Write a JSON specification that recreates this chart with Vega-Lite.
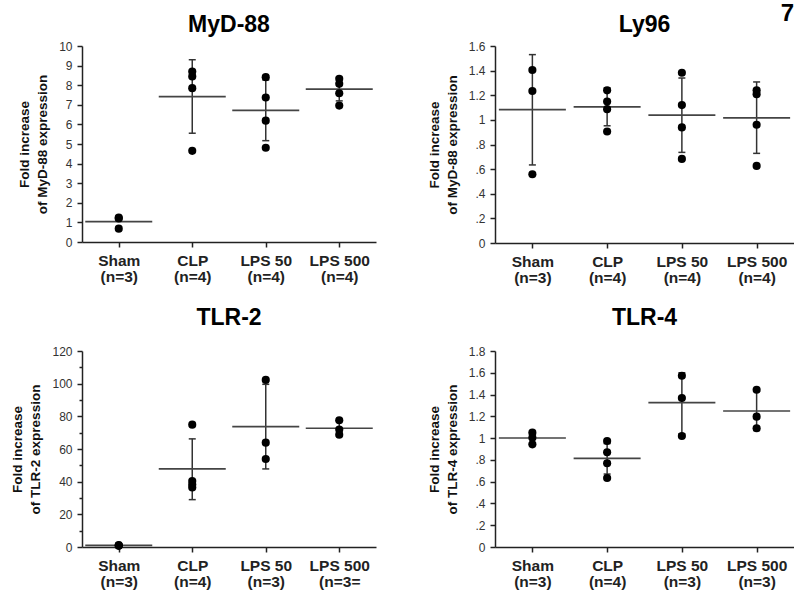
{
  "$schema": "https://vega.github.io/schema/vega-lite/v6.json",
  "background": "white",
  "padding": {"left": 10, "top": 2, "right": 0, "bottom": 0},
  "title": {"text": "7", "anchor": "end", "fontSize": 24, "fontWeight": "bold", "font": "Liberation Sans", "color": "#000", "offset": -12},
  "config": {
    "view": {"stroke": null},
    "axis": {
      "grid": false,
      "domainColor": "#222", "domainWidth": 1.5,
      "tickColor": "#222", "tickWidth": 1.5, "tickSize": 5,
      "labelFont": "Liberation Sans", "labelFontSize": 12, "labelColor": "#333", "labelOverlap": false,
      "titleFont": "Liberation Sans", "titleFontSize": 13.5, "titleFontWeight": "bold", "titleColor": "#111"
    },
    "axisX": {"labelFontSize": 15.5, "labelFontWeight": "bold", "labelColor": "#222", "labelAngle": 0, "labelPadding": 6, "labelLineHeight": 16, "title": null},
    "axisY": {"labelPadding": 5, "titlePadding": 9, "titleLineHeight": 18, "labelOverlap": false, "tickCount": 30},
    "title": {"font": "Liberation Sans", "fontSize": 23, "fontWeight": "bold", "color": "#000", "anchor": "middle", "offset": 3}
  },
  "datasets": {
    "pts": [
      {"panel": "MyD-88", "group": "Sham|(n=3)", "value": 1.25},
      {"panel": "MyD-88", "group": "Sham|(n=3)", "value": 1.2},
      {"panel": "MyD-88", "group": "Sham|(n=3)", "value": 0.68},
      {"panel": "MyD-88", "group": "CLP|(n=4)", "value": 8.7},
      {"panel": "MyD-88", "group": "CLP|(n=4)", "value": 8.45},
      {"panel": "MyD-88", "group": "CLP|(n=4)", "value": 7.85},
      {"panel": "MyD-88", "group": "CLP|(n=4)", "value": 4.65},
      {"panel": "MyD-88", "group": "LPS 50|(n=4)", "value": 8.41},
      {"panel": "MyD-88", "group": "LPS 50|(n=4)", "value": 7.37},
      {"panel": "MyD-88", "group": "LPS 50|(n=4)", "value": 6.19},
      {"panel": "MyD-88", "group": "LPS 50|(n=4)", "value": 4.81},
      {"panel": "MyD-88", "group": "LPS 500|(n=4)", "value": 8.33},
      {"panel": "MyD-88", "group": "LPS 500|(n=4)", "value": 8.07},
      {"panel": "MyD-88", "group": "LPS 500|(n=4)", "value": 7.59},
      {"panel": "MyD-88", "group": "LPS 500|(n=4)", "value": 6.96},
      {"panel": "Ly96", "group": "Sham|(n=3)", "value": 1.405},
      {"panel": "Ly96", "group": "Sham|(n=3)", "value": 1.235},
      {"panel": "Ly96", "group": "Sham|(n=3)", "value": 0.558},
      {"panel": "Ly96", "group": "CLP|(n=4)", "value": 1.24},
      {"panel": "Ly96", "group": "CLP|(n=4)", "value": 1.149},
      {"panel": "Ly96", "group": "CLP|(n=4)", "value": 1.087},
      {"panel": "Ly96", "group": "CLP|(n=4)", "value": 0.906},
      {"panel": "Ly96", "group": "LPS 50|(n=4)", "value": 1.383},
      {"panel": "Ly96", "group": "LPS 50|(n=4)", "value": 1.12},
      {"panel": "Ly96", "group": "LPS 50|(n=4)", "value": 0.939},
      {"panel": "Ly96", "group": "LPS 50|(n=4)", "value": 0.683},
      {"panel": "Ly96", "group": "LPS 500|(n=4)", "value": 1.24},
      {"panel": "Ly96", "group": "LPS 500|(n=4)", "value": 1.209},
      {"panel": "Ly96", "group": "LPS 500|(n=4)", "value": 0.96},
      {"panel": "Ly96", "group": "LPS 500|(n=4)", "value": 0.626},
      {"panel": "TLR-2", "group": "Sham|(n=3)", "value": 1.2},
      {"panel": "TLR-2", "group": "Sham|(n=3)", "value": 0.9},
      {"panel": "TLR-2", "group": "Sham|(n=3)", "value": 0.7},
      {"panel": "TLR-2", "group": "CLP|(n=4)", "value": 74.9},
      {"panel": "TLR-2", "group": "CLP|(n=4)", "value": 40.4},
      {"panel": "TLR-2", "group": "CLP|(n=4)", "value": 38.2},
      {"panel": "TLR-2", "group": "CLP|(n=4)", "value": 36.4},
      {"panel": "TLR-2", "group": "LPS 50|(n=3)", "value": 102.3},
      {"panel": "TLR-2", "group": "LPS 50|(n=3)", "value": 63.9},
      {"panel": "TLR-2", "group": "LPS 50|(n=3)", "value": 53.9},
      {"panel": "TLR-2", "group": "LPS 500|(n=3=", "value": 77.6},
      {"panel": "TLR-2", "group": "LPS 500|(n=3=", "value": 71.9},
      {"panel": "TLR-2", "group": "LPS 500|(n=3=", "value": 68.8},
      {"panel": "TLR-4", "group": "Sham|(n=3)", "value": 1.05},
      {"panel": "TLR-4", "group": "Sham|(n=3)", "value": 1.004},
      {"panel": "TLR-4", "group": "Sham|(n=3)", "value": 0.943},
      {"panel": "TLR-4", "group": "CLP|(n=4)", "value": 0.973},
      {"panel": "TLR-4", "group": "CLP|(n=4)", "value": 0.87},
      {"panel": "TLR-4", "group": "CLP|(n=4)", "value": 0.769},
      {"panel": "TLR-4", "group": "CLP|(n=4)", "value": 0.634},
      {"panel": "TLR-4", "group": "LPS 50|(n=3)", "value": 1.573},
      {"panel": "TLR-4", "group": "LPS 50|(n=3)", "value": 1.368},
      {"panel": "TLR-4", "group": "LPS 50|(n=3)", "value": 1.019},
      {"panel": "TLR-4", "group": "LPS 500|(n=3)", "value": 1.444},
      {"panel": "TLR-4", "group": "LPS 500|(n=3)", "value": 1.197},
      {"panel": "TLR-4", "group": "LPS 500|(n=3)", "value": 1.09}
    ],
    "stats": [
      {"panel": "MyD-88", "group": "Sham|(n=3)", "mean": 1.04},
      {"panel": "MyD-88", "group": "CLP|(n=4)", "mean": 7.42, "lo": 5.55, "hi": 9.3},
      {"panel": "MyD-88", "group": "LPS 50|(n=4)", "mean": 6.72, "lo": 5.17, "hi": 8.27},
      {"panel": "MyD-88", "group": "LPS 500|(n=4)", "mean": 7.8, "lo": 7.2, "hi": 8.4},
      {"panel": "Ly96", "group": "Sham|(n=3)", "mean": 1.084, "lo": 0.634, "hi": 1.53},
      {"panel": "Ly96", "group": "CLP|(n=4)", "mean": 1.106, "lo": 0.952, "hi": 1.26},
      {"panel": "Ly96", "group": "LPS 50|(n=4)", "mean": 1.039, "lo": 0.736, "hi": 1.34},
      {"panel": "Ly96", "group": "LPS 500|(n=4)", "mean": 1.017, "lo": 0.728, "hi": 1.308},
      {"panel": "TLR-2", "group": "Sham|(n=3)", "mean": 1.0},
      {"panel": "TLR-2", "group": "CLP|(n=4)", "mean": 47.8, "lo": 29.0, "hi": 66.2},
      {"panel": "TLR-2", "group": "LPS 50|(n=3)", "mean": 73.7, "lo": 47.8, "hi": 99.6},
      {"panel": "TLR-2", "group": "LPS 500|(n=3=", "mean": 72.7, "lo": 68.2, "hi": 77.2},
      {"panel": "TLR-4", "group": "Sham|(n=3)", "mean": 1.001, "lo": 0.95, "hi": 1.05},
      {"panel": "TLR-4", "group": "CLP|(n=4)", "mean": 0.814, "lo": 0.67, "hi": 0.95},
      {"panel": "TLR-4", "group": "LPS 50|(n=3)", "mean": 1.325, "lo": 1.04, "hi": 1.6},
      {"panel": "TLR-4", "group": "LPS 500|(n=3)", "mean": 1.249, "lo": 1.07, "hi": 1.43}
    ]
  },
  "concat": [
    {
      "title": "MyD-88",
      "width": 294, "height": 196,
      "encoding": {
        "x": {"field": "group", "type": "nominal", "scale": {"type": "point", "padding": 0.5, "domain": ["Sham|(n=3)", "CLP|(n=4)", "LPS 50|(n=4)", "LPS 500|(n=4)"]}, "axis": {"labelExpr": "split(datum.label, '|')"}}
      },
      "layer": [
        {"data": {"name": "stats"}, "transform": [{"filter": "datum.panel === 'MyD-88' && isValid(datum.lo)"}], "mark": {"type": "rule", "color": "#333", "strokeWidth": 1.5}, "encoding": {"y": {"field": "lo", "type": "quantitative", "scale": {"domain": [0, 10], "nice": false}, "axis": {"values": [0,1,2,3,4,5,6,7,8,9,10], "tickCount": 30, "format": "d", "title": ["Fold increase", "of MyD-88 expression"]}}, "y2": {"field": "hi"}}},
        {"data": {"name": "stats"}, "transform": [{"filter": "datum.panel === 'MyD-88' && isValid(datum.lo)"}], "mark": {"type": "tick", "color": "#333", "size": 7, "thickness": 1.5, "opacity": 1}, "encoding": {"y": {"field": "lo", "type": "quantitative"}}},
        {"data": {"name": "stats"}, "transform": [{"filter": "datum.panel === 'MyD-88' && isValid(datum.hi)"}], "mark": {"type": "tick", "color": "#333", "size": 7, "thickness": 1.5, "opacity": 1}, "encoding": {"y": {"field": "hi", "type": "quantitative"}}},
        {"data": {"name": "stats"}, "transform": [{"filter": "datum.panel === 'MyD-88'"}], "mark": {"type": "tick", "color": "#444", "size": 67, "thickness": 1.7, "opacity": 1}, "encoding": {"y": {"field": "mean", "type": "quantitative"}}},
        {"data": {"name": "pts"}, "transform": [{"filter": "datum.panel === 'MyD-88'"}], "mark": {"type": "circle", "color": "#000", "size": 66, "opacity": 1}, "encoding": {"y": {"field": "value", "type": "quantitative"}}}
      ]
    },
    {
      "title": "Ly96",
      "width": 299, "height": 197,
      "encoding": {
        "x": {"field": "group", "type": "nominal", "scale": {"type": "point", "padding": 0.5, "domain": ["Sham|(n=3)", "CLP|(n=4)", "LPS 50|(n=4)", "LPS 500|(n=4)"]}, "axis": {"labelExpr": "split(datum.label, '|')"}}
      },
      "layer": [
        {"data": {"name": "stats"}, "transform": [{"filter": "datum.panel === 'Ly96' && isValid(datum.lo)"}], "mark": {"type": "rule", "color": "#333", "strokeWidth": 1.5}, "encoding": {"y": {"field": "lo", "type": "quantitative", "scale": {"domain": [0, 1.6], "nice": false}, "axis": {"values": [0,0.2,0.4,0.6,0.8,1,1.2,1.4,1.6], "tickCount": 30, "labelExpr": "datum.value > 0 && datum.value < 1 ? slice(format(datum.value, '.1f'), 1) : format(datum.value, '.1~f')", "title": ["Fold increase", "of MyD-88 expression"]}}, "y2": {"field": "hi"}}},
        {"data": {"name": "stats"}, "transform": [{"filter": "datum.panel === 'Ly96' && isValid(datum.lo)"}], "mark": {"type": "tick", "color": "#333", "size": 7, "thickness": 1.5, "opacity": 1}, "encoding": {"y": {"field": "lo", "type": "quantitative"}}},
        {"data": {"name": "stats"}, "transform": [{"filter": "datum.panel === 'Ly96' && isValid(datum.hi)"}], "mark": {"type": "tick", "color": "#333", "size": 7, "thickness": 1.5, "opacity": 1}, "encoding": {"y": {"field": "hi", "type": "quantitative"}}},
        {"data": {"name": "stats"}, "transform": [{"filter": "datum.panel === 'Ly96'"}], "mark": {"type": "tick", "color": "#444", "size": 67, "thickness": 1.7, "opacity": 1}, "encoding": {"y": {"field": "mean", "type": "quantitative"}}},
        {"data": {"name": "pts"}, "transform": [{"filter": "datum.panel === 'Ly96'"}], "mark": {"type": "circle", "color": "#000", "size": 66, "opacity": 1}, "encoding": {"y": {"field": "value", "type": "quantitative"}}}
      ]
    },
    {
      "title": {"text": "TLR-2", "offset": 15},
      "width": 294, "height": 196,
      "encoding": {
        "x": {"field": "group", "type": "nominal", "scale": {"type": "point", "padding": 0.5, "domain": ["Sham|(n=3)", "CLP|(n=4)", "LPS 50|(n=3)", "LPS 500|(n=3="]}, "axis": {"labelExpr": "split(datum.label, '|')"}}
      },
      "layer": [
        {"data": {"name": "stats"}, "transform": [{"filter": "datum.panel === 'TLR-2' && isValid(datum.lo)"}], "mark": {"type": "rule", "color": "#333", "strokeWidth": 1.5}, "encoding": {"y": {"field": "lo", "type": "quantitative", "scale": {"domain": [0, 120], "nice": false}, "axis": {"values": [0,10,20,30,40,50,60,70,80,90,100,110,120], "tickCount": 30, "labelExpr": "datum.value % 20 === 0 ? datum.label : ''", "tickSize": {"condition": {"test": "datum.value % 20 === 0", "value": 5}, "value": 3}, "title": ["Fold increase", "of TLR-2 expression"]}}, "y2": {"field": "hi"}}},
        {"data": {"name": "stats"}, "transform": [{"filter": "datum.panel === 'TLR-2' && isValid(datum.lo)"}], "mark": {"type": "tick", "color": "#333", "size": 7, "thickness": 1.5, "opacity": 1}, "encoding": {"y": {"field": "lo", "type": "quantitative"}}},
        {"data": {"name": "stats"}, "transform": [{"filter": "datum.panel === 'TLR-2' && isValid(datum.hi)"}], "mark": {"type": "tick", "color": "#333", "size": 7, "thickness": 1.5, "opacity": 1}, "encoding": {"y": {"field": "hi", "type": "quantitative"}}},
        {"data": {"name": "stats"}, "transform": [{"filter": "datum.panel === 'TLR-2'"}], "mark": {"type": "tick", "color": "#444", "size": 67, "thickness": 1.7, "opacity": 1}, "encoding": {"y": {"field": "mean", "type": "quantitative"}}},
        {"data": {"name": "pts"}, "transform": [{"filter": "datum.panel === 'TLR-2'"}], "mark": {"type": "circle", "color": "#000", "size": 66, "opacity": 1}, "encoding": {"y": {"field": "value", "type": "quantitative"}}}
      ]
    },
    {
      "title": {"text": "TLR-4", "offset": 15},
      "width": 299, "height": 196,
      "encoding": {
        "x": {"field": "group", "type": "nominal", "scale": {"type": "point", "padding": 0.5, "domain": ["Sham|(n=3)", "CLP|(n=4)", "LPS 50|(n=3)", "LPS 500|(n=3)"]}, "axis": {"labelExpr": "split(datum.label, '|')"}}
      },
      "layer": [
        {"data": {"name": "stats"}, "transform": [{"filter": "datum.panel === 'TLR-4' && isValid(datum.lo)"}], "mark": {"type": "rule", "color": "#333", "strokeWidth": 1.5}, "encoding": {"y": {"field": "lo", "type": "quantitative", "scale": {"domain": [0, 1.8], "nice": false}, "axis": {"values": [0,0.2,0.4,0.6,0.8,1,1.2,1.4,1.6,1.8], "tickCount": 30, "labelExpr": "datum.value > 0 && datum.value < 1 ? slice(format(datum.value, '.1f'), 1) : format(datum.value, '.1~f')", "title": ["Fold increase", "of TLR-4 expression"]}}, "y2": {"field": "hi"}}},
        {"data": {"name": "stats"}, "transform": [{"filter": "datum.panel === 'TLR-4' && isValid(datum.lo)"}], "mark": {"type": "tick", "color": "#333", "size": 7, "thickness": 1.5, "opacity": 1}, "encoding": {"y": {"field": "lo", "type": "quantitative"}}},
        {"data": {"name": "stats"}, "transform": [{"filter": "datum.panel === 'TLR-4' && isValid(datum.hi)"}], "mark": {"type": "tick", "color": "#333", "size": 7, "thickness": 1.5, "opacity": 1}, "encoding": {"y": {"field": "hi", "type": "quantitative"}}},
        {"data": {"name": "stats"}, "transform": [{"filter": "datum.panel === 'TLR-4'"}], "mark": {"type": "tick", "color": "#444", "size": 67, "thickness": 1.7, "opacity": 1}, "encoding": {"y": {"field": "mean", "type": "quantitative"}}},
        {"data": {"name": "pts"}, "transform": [{"filter": "datum.panel === 'TLR-4'"}], "mark": {"type": "circle", "color": "#000", "size": 66, "opacity": 1}, "encoding": {"y": {"field": "value", "type": "quantitative"}}}
      ]
    }
  ],
  "columns": 2,
  "bounds": "flush",
  "spacing": {"row": 108, "column": 119}
}
